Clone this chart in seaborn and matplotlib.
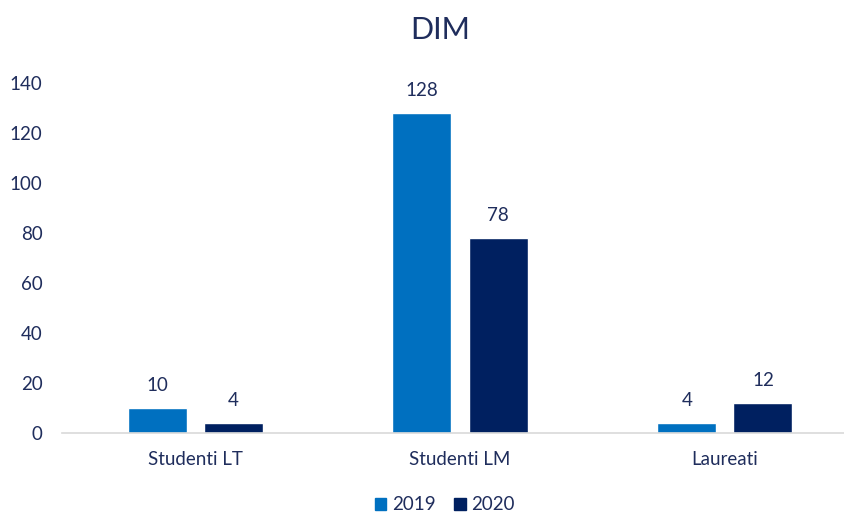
import matplotlib
matplotlib.use('Agg')
import matplotlib.pyplot as plt
import seaborn as sns
import pandas as pd

CATEGORIES = ['Studenti LT', 'Studenti LM', 'Laureati']
YEARS      = ['2019', '2020']
VAL_2019   = [10, 128, 4]
VAL_2020   = [4, 78, 12]
COLORS     = ['#0070C0', '#002060']
TXT        = '#1F2D5C'

sns.set_theme(style='white')
plt.rcParams['font.family'] = ['Lato', 'DejaVu Sans']

df = pd.DataFrame({
    'cat':  CATEGORIES * 2,
    'year': [YEARS[0]] * 3 + [YEARS[1]] * 3,
    'val':  VAL_2019 + VAL_2020,
})

fig = plt.figure(figsize=(8.45, 5.15), dpi=100)
ax = fig.add_axes([0.0734, 0.1592, 0.9266, 0.6796])
sns.barplot(data=df, x='cat', y='val', hue='year', palette=COLORS,
            width=0.574, gap=0.224, saturation=1, ax=ax, legend=False)

for cont in ax.containers:
    ax.bar_label(cont, padding=10, fontsize=13.5, color=TXT)

ax.set_ylim(0, 140)
ax.set_xlim(-0.502, 2.453)
ax.set_yticks(range(0, 141, 20))
ax.set_xlabel('')
ax.set_ylabel('')
for s in ['top', 'right', 'left']:
    ax.spines[s].set_visible(False)
ax.spines['bottom'].set_color('#D9D9D9')
ax.spines['bottom'].set_linewidth(1.2)
ax.tick_params(axis='y', length=0, pad=14, labelsize=13.5, labelcolor=TXT)
ax.tick_params(axis='x', length=0, pad=13, labelsize=13.5, labelcolor=TXT)

fig.text(440 / 845, 1 - 30 / 515, 'DIM', ha='center', va='center',
         fontsize=22, color=TXT)

handles = [plt.Rectangle((0, 0), 1, 1, color=c) for c in COLORS]
fig.legend(handles, YEARS, loc='center', bbox_to_anchor=(445 / 845, 1 - 505 / 515),
           ncol=2, frameon=False, fontsize=13.5, labelcolor=TXT,
           handlelength=0.6, handleheight=0.6, handletextpad=0.3, columnspacing=1.0)

fig.savefig('out.png', dpi=100)
